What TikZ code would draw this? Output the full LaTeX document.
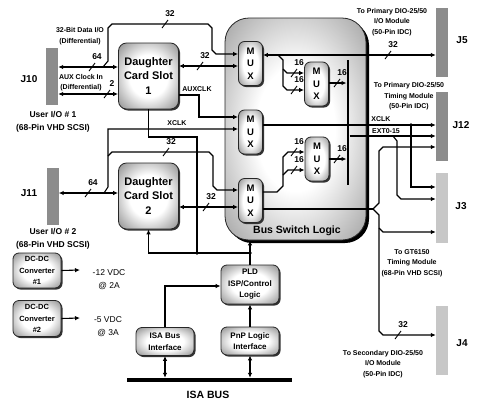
\documentclass[tikz,border=0pt]{standalone}
\usepackage{fontspec}
\setmainfont{Liberation Sans}
\usetikzlibrary{arrows.meta, shadows}
\definecolor{jdark}{gray}{0.55}
\definecolor{jlight}{gray}{0.78}
\definecolor{edge}{gray}{0.45}
\definecolor{bigedge}{gray}{0.5}
\pgfdeclareradialshading{bevel}{\pgfpoint{0bp}{0bp}}{color(0bp)=(white); color(16bp)=(white); color(40bp)=(edge); color(75bp)=(edge)}
\pgfdeclareradialshading{bigbevel}{\pgfpoint{0bp}{0bp}}{color(0bp)=(white); color(14bp)=(white); color(44bp)=(bigedge); color(75bp)=(bigedge)}

\tikzset{
  wire/.style={line width=1.1pt, >={Latex[length=5pt,width=4.5pt]}},
  bevelbox/.style={draw=black!85, line width=0.8pt, rounded corners=6pt, shading=bevel, shade,
    align=center, inner sep=0pt, font=\bfseries\fontsize{8}{11.5}\selectfont},
  blk/.style={bevelbox, drop shadow={shadow xshift=1.5pt, shadow yshift=-1.5pt, fill=black!80, opacity=1}},
  card/.style={blk, minimum width=60pt, minimum height=66pt, rounded corners=8pt,
    font=\bfseries\fontsize{11}{14.5}\selectfont},
  mux/.style={blk, minimum width=24pt, minimum height=44pt,
    font=\bfseries\fontsize{9.5}{12.5}\selectfont},
  jbar/.style={fill=jdark, minimum width=12pt, inner sep=0pt},
  jname/.style={font=\bfseries\fontsize{10}{12}\selectfont},
  note/.style={align=center, inner sep=0pt, font=\bfseries\fontsize{7}{10.5}\selectfont},
  io/.style={align=center, inner sep=0pt, font=\bfseries\fontsize{8.5}{12.5}\selectfont},
  numlbl/.style={inner sep=0pt, font=\bfseries\fontsize{8.5}{9}\selectfont},
  jdot/.style={circle, fill=black, minimum size=3.6pt, inner sep=0pt},
  bw/.pic={\draw[line width=0.9pt] (-3,4) -- (3,-4); \node[numlbl] (-n) at (5,-10) {#1};}
}

\begin{document}
\begin{tikzpicture}[x=1pt, y=-1pt]
  \useasboundingbox (0,0) rectangle (480,405);

  % bus switch block
  \node[bevelbox, shading=bigbevel, minimum width=141pt, minimum height=222pt, rounded corners=24pt,
    drop shadow={shadow xshift=3pt, shadow yshift=-3pt, fill=black, opacity=1}] (bsl) at (295.5,129) {};
  \node[font=\bfseries\fontsize{10.5}{12}\selectfont] (bsltxt) at (297,231) {Bus Switch Logic};

  % connectors
  \node[jbar, minimum height=57pt] (j10) at (52,76) {};
  \node[jname] (j10n) at (29,79) {J10};
  \node[jbar, minimum height=57pt] (j11) at (52.5,196.5) {};
  \node[jname] (j11n) at (29,193) {J11};
  \node[jbar, minimum height=69pt] (j5) at (442,42.5) {};
  \node[jname] (j5n) at (462,40) {J5};
  \node[jbar, minimum height=69pt] (j12) at (442,126.5) {};
  \node[jname] (j12n) at (461,125) {J12};
  \node[jbar, fill=jlight, minimum height=70pt] (j3) at (442,208) {};
  \node[jname] (j3n) at (461,206) {J3};
  \node[jbar, fill=jlight, minimum height=69pt] (j4) at (442,340.5) {};
  \node[jname] (j4n) at (462,343) {J4};

  % blocks
  \node[card] (dcsA) at (148.5,76) {Daughter\\Card Slot\\1};
  \node[card] (dcsB) at (148.5,196) {Daughter\\Card Slot\\2};
  \node[mux] (muxA) at (250.5,63.5) {M\\U\\X};
  \node[mux] (muxB) at (250.5,132) {M\\U\\X};
  \node[mux] (muxC) at (250.5,200.5) {M\\U\\X};
  \node[mux] (muxD) at (316.5,84) {M\\U\\X};
  \node[mux] (muxE) at (317,159) {M\\U\\X};
  \node[fill=black, minimum width=2.6pt, minimum height=125pt, inner sep=0pt] (bar) at (348,122.5) {};
  \node[blk, minimum width=48pt, minimum height=35pt, font=\bfseries\fontsize{7.5}{11.5}\selectfont] (dcA) at (37,270.5) {DC-DC\\Converter\\\#1};
  \node[blk, minimum width=48pt, minimum height=36pt, font=\bfseries\fontsize{7.5}{11.5}\selectfont] (dcB) at (37,318.5) {DC-DC\\Converter\\\#2};
  \node[blk, minimum width=58pt, minimum height=28pt] (isa) at (165,341.5) {ISA Bus\\Interface};
  \node[blk, minimum width=58pt, minimum height=28pt] (pnp) at (250,341) {PnP Logic\\Interface};
  \node[blk, minimum width=58pt, minimum height=39pt] (pld) at (250,284.5) {PLD\\ISP/Control\\Logic};
  \node[fill=black, minimum width=165pt, minimum height=4pt, inner sep=0pt] (isabus) at (209.5,380) {};
  \node[font=\bfseries\fontsize{10.5}{12}\selectfont] (isalbl) at (208,395) {ISA BUS};

  % texts
  \node[note] (t32) at (80,36) {32-Bit Data I/O\\(Differential)};
  \node[note] (taux) at (81,82.5) {AUX Clock In\\(Differential)};
  \node[io] (u1) at (53,122) {User I/O \# 1\\(68-Pin VHD SCSI)};
  \node[io] (u2) at (53,239) {User I/O \# 2\\(68-Pin VHD SCSI)};
  \node[note] (auxl) at (197,89) {AUXCLK};
  \node[note] (xclkl) at (177,123) {XCLK};
  \node[note] (xclkr) at (381,119) {XCLK};
  \node[note] (extl) at (386,131) {EXT0-15};
  \node[note] (t5) at (392,22) {To Primary DIO-25/50\\I/O Module\\(50-Pin IDC)};
  \node[note] (t12) at (409,96.5) {To Primary DIO-25/50\\Timing Module\\(50-Pin IDC)};
  \node[note] (t3) at (412,263) {To GT6150\\Timing Module\\(68-Pin VHD SCSI)};
  \node[note] (t4) at (383,364) {To Secondary DIO-25/50\\I/O Module\\(50-Pin IDC)};
  \node[align=center, inner sep=0pt, font=\fontsize{8.5}{13}\selectfont] (v12) at (109,279.5) {-12 VDC\\@ 2A};
  \node[align=center, inner sep=0pt, font=\fontsize{8.5}{13}\selectfont] (v5) at (108,326.5) {-5 VDC\\@ 3A};

  % junctions
  \coordinate (brA) at (103,67);
  \coordinate (brB) at (104,193);
  \coordinate (brC) at (108,156);
  \coordinate (brD) at (278,55);
  \coordinate (brE) at (283,69);
  \coordinate (brF) at (283,175);
  \coordinate (brG) at (393,136);
  \coordinate (brH) at (373,209);
  \coordinate (brI) at (379,228);
  \coordinate (out12) at (80,270);
  \coordinate (out5) at (80,318);
  \node[jdot] (dotA) at (197,253) {};
  \node[jdot] (dotB) at (250,253) {};
  \node[jdot] (dotC) at (411,125) {};

  % left side
  \draw[wire,<->] (j10.east |- 0,67) -- (dcsA.west |- 0,67);
  \draw[wire,->] (brA) -- (108,61) -- (108,28) -- (112,24) -- (208,24) -- (212,28) -- (212,50) -- (216,54) -- (muxA.west |- 0,54);
  \draw[wire,<->] (j10.east |- 0,94) -- (dcsA.west |- 0,94);
  \draw[wire,<->] (dcsA.east |- 0,66) -- (muxA.west |- 0,66);
  \draw[wire,->] (dcsA.east |- 0,95) -| (199,117) -- (muxB.west |- 0,117);
  \draw[wire,<->] (j11.east |- 0,193) -- (dcsB.west |- 0,193);
  \draw[wire,->] (brB) -- (108,187) -- (108,129) -- (muxB.west |- 0,129);
  \draw[wire,->] (brC) -- (112,152) -- (209,152) -- (213,156) -- (213,186) -- (217,190) -- (muxC.west |- 0,190);
  \draw[wire,<->] (dcsB.east |- 0,207) -- (muxC.west |- 0,207);
  \draw[wire] (dcsA.south) -- (dcsA.south |- 0,137) -| (dotA.center);
  \draw[wire,->] (dotB.center) -- (dcsB.south |- dotB.center) -- (dcsB.south);
  \draw[wire,->] (pld.north) -- (bsl.south -| pld.north);

  % right side
  \draw[wire,<->] (muxA.east |- 0,55) -- (j5.west |- 0,55);
  \draw[wire,->] (brD) -- (283,60) -- (283,86) -- (287,90) -- (muxD.west |- 0,90);
  \draw[wire,->] (brE) -- (287,73) -- (muxD.west |- 0,73);
  \draw[wire,->] (muxD.east |- 0,83) -- (bar.west |- 0,83);
  \draw[wire,->] (muxC.east |- 0,192) -- (277,192) -- (283,186) -- (283,157) -- (288,152) -- (muxE.west |- 0,152);
  \draw[wire,->] (brF) -- (288,170) -- (muxE.west |- 0,170);
  \draw[wire,->] (muxE.east |- 0,159) -- (bar.west |- 0,159);
  \draw[wire,->] (muxB.east |- 0,125) -- (j12.west |- 0,125);
  \draw[wire,->] (dotC.center) |- (j3.west |- 0,187);
  \draw[wire,->] (bar.east |- 0,136) -- (j12.west |- 0,136);
  \draw[wire,->] (brG) -- (397,141) -- (397,195) -- (401,199) -- (j3.west |- 0,199);
  \draw[wire] (muxC.east |- 0,209) -- (brH);
  \draw[wire,->] (brH) -- (379,203) -- (379,151) -- (383,147) -- (j12.west |- 0,147);
  \draw[wire,->] (brH) -- (379,215) -- (379,331) -- (383,335) -- (j4.west |- 0,335);
  \draw[wire,->] (brI) -- (383,232) -- (j3.west |- 0,232);

  % lower part
  \draw[wire,->] (dcA.east) -- (out12);
  \draw[wire,->] (dcB.east) -- (out5);
  \draw[wire,->] (isa.north) |- (pld.west |- 0,286);
  \draw[wire,->] (pnp.north) -- (pld.south);
  \draw[wire,<->] (isa.south) -- (isa.south |- isabus.north);
  \draw[wire,<->] (pnp.south) -- (pnp.south |- isabus.north);

  % bus widths
  \pic (bwA) at (92,67) {bw=64};
  \pic (bwB) at (165,24) {bw=32};
  \pic (bwC) at (107,94) {bw=2};
  \pic (bwD) at (200,66) {bw=32};
  \pic (bwE) at (88,193) {bw=64};
  \pic (bwF) at (166,152) {bw=32};
  \pic (bwG) at (206,207) {bw=32};
  \pic (bwH) at (388,55) {bw=32};
  \pic (bwI) at (294,73) {bw=16};
  \pic (bwJ) at (294,90) {bw=16};
  \pic (bwK) at (337,83) {bw=16};
  \pic (bwL) at (294,152) {bw=16};
  \pic (bwM) at (294,170) {bw=16};
  \pic (bwN) at (337,159) {bw=16};
  \pic (bwO) at (398,335) {bw=32};
\end{tikzpicture}
\end{document}
